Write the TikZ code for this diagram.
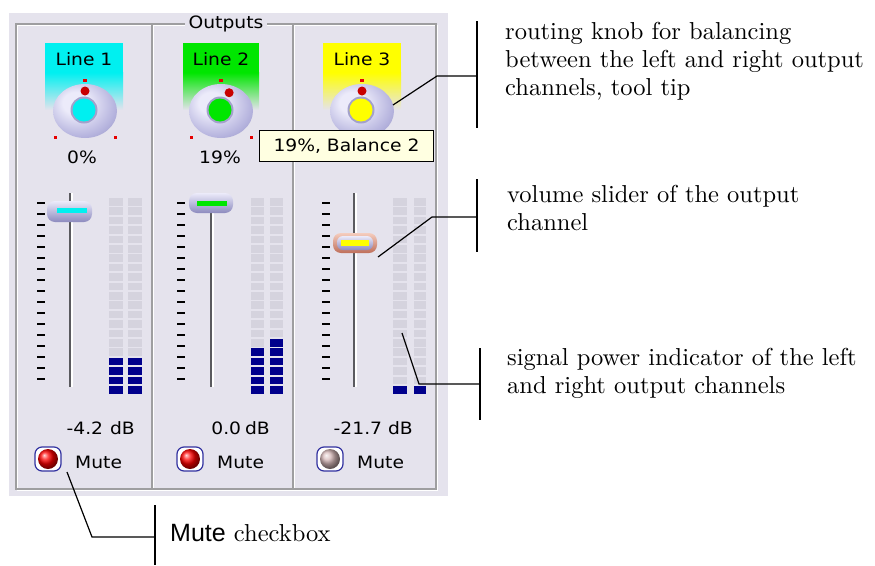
\documentclass[tikz,border=0pt]{standalone}
\usepackage{fontspec}
\newfontfamily\uifont[FakeStretch=1.1]{DejaVu Sans}
\newfontfamily\notesans{Liberation Sans}
\newfontfamily\notefont{lmroman10-regular}[Extension=.otf]
\usetikzlibrary{calc}
\definecolor{panelbg}{RGB}{229,227,237}
\definecolor{framegray}{RGB}{158,158,160}
\definecolor{meteroff}{RGB}{213,211,222}
\definecolor{meteron}{RGB}{0,0,140}
\definecolor{knoblight}{RGB}{236,235,250}
\definecolor{knobmid}{RGB}{182,180,222}
\definecolor{knobdark}{RGB}{140,138,190}
\definecolor{knobmark}{RGB}{230,0,0}
\definecolor{ptred}{RGB}{200,0,0}
\definecolor{tipyellow}{RGB}{255,255,225}
\definecolor{trackdark}{RGB}{90,90,95}
\definecolor{cbblue}{RGB}{50,50,160}
\definecolor{ballpink}{RGB}{215,185,185}
\definecolor{lcyan}{RGB}{0,240,240}
\definecolor{lgreen}{RGB}{0,230,0}
\definecolor{lyellow}{RGB}{255,255,0}
\definecolor{salmonlight}{RGB}{245,205,190}
\definecolor{salmondark}{RGB}{190,110,90}
\pgfdeclareradialshading{knobshade}{\pgfpoint{-9bp}{9bp}}{color(0bp)=(knoblight); color(10bp)=(knoblight); color(28bp)=(knobmid); color(42bp)=(knobdark); color(60bp)=(knobdark)}
\begin{document}
\begin{tikzpicture}[x=1pt,y=-1pt,
 ui/.style={font=\uifont\fontsize{17}{19}\selectfont, inner sep=0pt, text=black},
 note/.style={font=\notefont\fontsize{24.5}{28}\selectfont, align=left, inner sep=0pt, anchor=west},
 leader/.style={draw=black, line width=1.2pt},
 notebar/.style={draw=black, line width=1.6pt},
 tickmark/.style={line width=2pt, black},
 thumbshade/.style={rounded corners=8pt, top color=knoblight, bottom color=knobdark},
 pics/knob/.style 2 args={code={
   \fill[knobmark] (-2,-32.5) rectangle (2,-29.5);
   \fill[knobmark] (-31.5,25) rectangle (-28.5,28);
   \fill[knobmark] (28.5,25) rectangle (31.5,28);
   \shade[shading=knobshade] (0,0) ellipse [x radius=32, y radius=27];
   \fill[knobdark!80!white] (-1,-1) circle (13.5);
   \fill[#1] (-1,-1) circle (11.5);
   \fill[ptred] ({20*sin(#2)},{-20*cos(#2)}) circle (4.5);
 }},
]
\useasboundingbox (0,0) rectangle (875,565);

% panel
\fill[panelbg] (9,13) rectangle (448,496);
\draw[white, line width=1.5pt] (17.5,25.5) rectangle (437.5,490.5);
\draw[framegray, line width=1.5pt] (16,24) rectangle (436,489);
\foreach \x in {152,293}{
  \draw[framegray, line width=1.5pt] (\x,24) -- (\x,489);
  \draw[white, line width=1pt] ({\x+1.5},25) -- ({\x+1.5},488);
}
\node[ui, fill=panelbg, inner xsep=4pt, inner ysep=1pt] (outputs) at (226,24) {Outputs};

% label boxes
\foreach \xa/\xb/\c in {45/123/lcyan, 183/259/lgreen, 323/401/lyellow}{
  \fill[\c] (\xa,43) rectangle (\xb,73);
  \shade[top color=\c, bottom color=panelbg] (\xa,72.5) rectangle (\xb,110);
}
\node[ui] (line1) at (84,59) {Line 1};
\node[ui] (line2) at (221,59) {Line 2};
\node[ui] (line3) at (362,59) {Line 3};

% knobs
\pic at (85,111) {knob={lcyan}{0}};
\pic at (221,111) {knob={lgreen}{24}};
\pic at (362,111) {knob={lyellow}{0}};
\node[ui] (pct1) at (82,157) {0\%};
\node[ui] (pct2) at (220,157) {19\%};

% tooltip
\node[ui, draw=black, line width=1pt, fill=tipyellow, minimum width=174pt, minimum height=31pt, anchor=north west] (tip) at (259,130) {19\%, Balance 2};

% ticks
\foreach \x in {37,177,322}{
  \foreach \i in {0,...,16}{
    \draw[tickmark] (\x,{203+11*\i}) -- ++(8,0);
  }
}
% tracks
\foreach \x in {70,211,354}{
  \draw[line width=2pt, trackdark] (\x,193) -- (\x,387);
  \draw[line width=1.5pt, white] ({\x+2},193) -- ({\x+2},387);
}
% meters
\foreach \xa/\xb/\n in {109/123/4, 128/142/4, 251/264/5, 270/283/6, 393/407/1, 414/426/1}{
  \foreach \i in {0,...,20}{
    \ifnum\i>\numexpr20-\n\relax \def\cc{meteron}\else\def\cc{meteroff}\fi
    \fill[\cc] (\xa,{198+9.4*\i}) rectangle (\xb,{205.5+9.4*\i});
  }
}
% thumbs
\shade[thumbshade] (47,201) rectangle (92,222);
\fill[lcyan] (57,208) rectangle (87,213);
\shade[thumbshade] (189,193) rectangle (233,213);
\fill[lgreen] (197,201) rectangle (227,206);
\shade[rounded corners=8pt, top color=salmonlight, bottom color=salmondark] (333,233) rectangle (377,253);
\shade[rounded corners=6pt, top color=knoblight, bottom color=knobdark] (337,236) rectangle (373,250);
\fill[lyellow] (341,240) rectangle (369,245.5);

% dB values
\node[ui, anchor=east] (db1) at (135,428) {-4.2\kern7pt dB};
\node[ui, anchor=east] (db2) at (270,428) {0.0\kern4pt dB};
\node[ui, anchor=east] (db3) at (413,428) {-21.7\kern6pt dB};

% mute checkboxes
\foreach \x/\c in {48/red, 190/red, 330/ballpink}{
  \draw[cbblue, line width=1.2pt, fill=white, rounded corners=7pt] ({\x-13},447) rectangle ({\x+13},471);
  \shade[ball color=\c] (\x,459) circle (10);
}
\node[ui, anchor=west] (mute1) at (75,462) {Mute};
\node[ui, anchor=west] (mute2) at (217,462) {Mute};
\node[ui, anchor=west] (mute3) at (357,462) {Mute};

% annotations
\coordinate (k3) at (393,105);
\coordinate (k3b) at (437,76);
\coordinate (kj) at (477,76);
\draw[leader] (k3) -- (k3b) -- (kj);
\draw[notebar] (477,21) -- (477,128);
\node[note] (nknob) at (505,61) {routing knob for balancing\\between the left and right output\\channels, tool tip};

\coordinate (s3) at (378,257);
\coordinate (s3b) at (432,217);
\coordinate (sj) at (477,217);
\draw[leader] (s3) -- (s3b) -- (sj);
\draw[notebar] (477,179) -- (477,252);
\node[note] (nslider) at (507,208) {volume slider of the output\\channel};

\coordinate (m3) at (402,333);
\coordinate (m3b) at (419,384);
\coordinate (mj) at (480,384);
\draw[leader] (m3) -- (m3b) -- (mj);
\draw[notebar] (480,348) -- (480,420);
\node[note] (nmeter) at (507,373) {signal power indicator of the left\\and right output channels};

\coordinate (c1) at (67,472);
\coordinate (c1b) at (92,537);
\coordinate (cj) at (155,537);
\draw[leader] (c1) -- (c1b) -- (cj);
\draw[notebar] (155,505) -- (155,565);
\node[note] (nmute) at (170,533) {{\notesans\fontsize{25}{28}\selectfont Mute} checkbox};
\end{tikzpicture}
\end{document}
